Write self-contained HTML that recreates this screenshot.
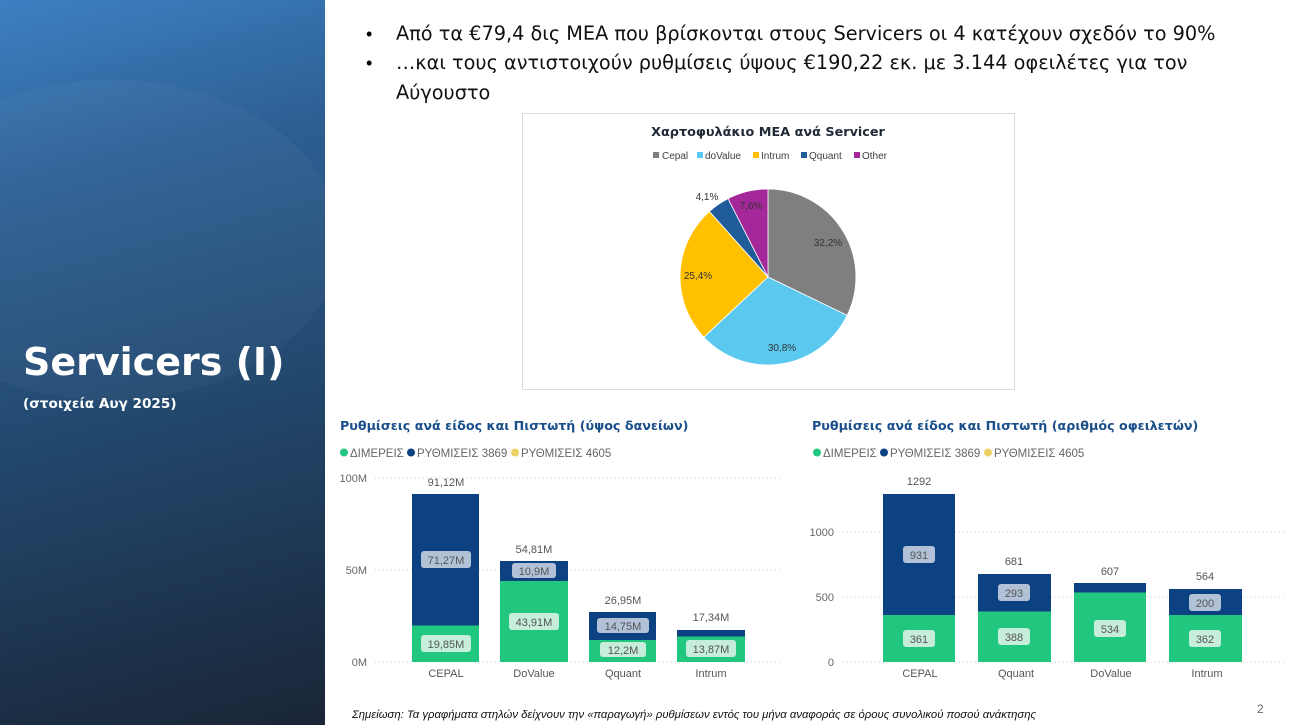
<!DOCTYPE html>
<html><head><meta charset="utf-8"><style>
html,body{margin:0;padding:0;width:1299px;height:725px;overflow:hidden;background:#fff;font-family:"Liberation Sans","DejaVu Sans",sans-serif}
.left{position:absolute;left:0;top:0;width:325px;height:725px;overflow:hidden;background:linear-gradient(165deg,#3d80c2 0%,#2d5f93 25%,#23496f 55%,#1d3550 80%,#1a2536 100%)}
.left .sh{position:absolute;left:-120px;top:80px;width:460px;height:320px;border-radius:50%;background:rgba(255,255,255,0.03)}
.t1{position:absolute;left:23px;top:340px;color:#fff;font-weight:bold;font-size:38px;font-family:"DejaVu Sans",sans-serif}
.t2{position:absolute;left:23px;top:396px;color:#fff;font-weight:bold;font-size:13.6px;font-family:"DejaVu Sans",sans-serif}
.b{position:absolute;left:396px;font-size:19.3px;color:#111;font-family:"DejaVu Sans",sans-serif}
.dot{position:absolute;left:366px;font-size:18px}
</style></head><body>
<div class="left"><div class="sh"></div><div class="t1">Servicers (I)</div><div class="t2">(στοιχεία Αυγ 2025)</div></div>
<div class="dot" style="top:24px">•</div><div class="b" style="top:22px">Από τα €79,4 δις ΜΕΑ που βρίσκονται στους Servicers οι 4 κατέχουν σχεδόν το 90%</div>
<div class="dot" style="top:53px">•</div><div class="b" style="top:51px">…και τους αντιστοιχούν ρυθμίσεις ύψους €190,22 εκ. με 3.144 οφειλέτες για τον</div>
<div class="b" style="top:81px">Αύγουστο</div>
<svg width="1299" height="725" style="position:absolute;left:0;top:0" font-family="Liberation Sans, DejaVu Sans, sans-serif">
<rect x="522.5" y="113.5" width="492" height="276" fill="#fff" stroke="#d6dbe0"/>
<text x="768" y="136" text-anchor="middle" font-size="12.8" font-weight="bold" fill="#1f2a36" font-family="DejaVu Sans, sans-serif">Χαρτοφυλάκιο ΜΕΑ ανά Servicer</text>
<g font-size="10" fill="#404040">
<rect x="653" y="152" width="6" height="6" fill="#7f7f7f"/><text x="662" y="159">Cepal</text>
<rect x="697" y="152" width="6" height="6" fill="#5bc8f0"/><text x="705" y="159">doValue</text>
<rect x="753" y="152" width="6" height="6" fill="#ffc000"/><text x="761" y="159">Intrum</text>
<rect x="801" y="152" width="6" height="6" fill="#1f5c99"/><text x="809" y="159">Qquant</text>
<rect x="854" y="152" width="6" height="6" fill="#a5289a"/><text x="862" y="159">Other</text>
</g>
<path d="M768,277 L768,189 A88,88 0 0 1 847.1,315.4 Z" fill="#7f7f7f" stroke="#fff" stroke-width="0.8"/>
<path d="M768,277 L847.1,315.4 A88,88 0 0 1 703.8,337.2 Z" fill="#5bc8f0" stroke="#fff" stroke-width="0.8"/>
<path d="M768,277 L703.8,337.2 A88,88 0 0 1 709.4,211.4 Z" fill="#ffc000" stroke="#fff" stroke-width="0.8"/>
<path d="M768,277 L709.4,211.4 A88,88 0 0 1 728,198.6 Z" fill="#1f5c99" stroke="#fff" stroke-width="0.8"/>
<path d="M768,277 L728,198.6 A88,88 0 0 1 768,189 Z" fill="#a5289a" stroke="#fff" stroke-width="0.8"/>
<g font-size="10" fill="#333" text-anchor="middle">
<text x="828" y="246">32,2%</text><text x="782" y="351">30,8%</text><text x="698" y="279">25,4%</text><text x="707" y="200">4,1%</text><text x="751" y="209">7,6%</text>
</g>
<text x="340" y="430" font-size="12.7" font-weight="bold" fill="#1a4f8b" font-family="DejaVu Sans, sans-serif">Ρυθμίσεις ανά είδος και Πιστωτή (ύψος δανείων)</text>
<g font-size="11.5" fill="#666">
<circle cx="344" cy="452.5" r="4" fill="#22c77f"/><text x="350" y="457">ΔΙΜΕΡΕΙΣ</text>
<circle cx="411" cy="452.5" r="4" fill="#0c4282"/><text x="417" y="457">ΡΥΘΜΙΣΕΙΣ 3869</text>
<circle cx="515" cy="452.5" r="4" fill="#ecd064"/><text x="521" y="457">ΡΥΘΜΙΣΕΙΣ 4605</text>
</g>
<g stroke="#ccc" stroke-dasharray="1,3"><line x1="375" y1="478" x2="782" y2="478"/><line x1="375" y1="570" x2="782" y2="570"/><line x1="375" y1="662" x2="782" y2="662"/></g>
<g font-size="11" fill="#666" text-anchor="end"><text x="367" y="482">100M</text><text x="367" y="574">50M</text><text x="367" y="666">0M</text></g>
<g fill="#0c4282"><rect x="412" y="494" width="67" height="168"/><rect x="500" y="561" width="68" height="101"/><rect x="589" y="612" width="67" height="50"/><rect x="677" y="630" width="68" height="32"/></g>
<g fill="#22c77f"><rect x="412" y="625.5" width="67" height="36.5"/><rect x="500" y="581" width="68" height="81"/><rect x="589" y="640" width="67" height="22"/><rect x="677" y="636.5" width="68" height="25.5"/></g>
<g fill="#cfd8e6" opacity="0.85"><rect x="421" y="551" width="50" height="17" rx="3"/><rect x="512" y="563" width="44" height="15" rx="3"/><rect x="597" y="618" width="52" height="15" rx="3"/></g>
<g fill="#d8f2e4" opacity="0.9"><rect x="421" y="635" width="50" height="17" rx="3"/><rect x="509" y="613" width="50" height="17" rx="3"/><rect x="600" y="642" width="46" height="15" rx="3"/><rect x="686" y="640" width="50" height="17" rx="3"/></g>
<g font-size="11" fill="#555" text-anchor="middle">
<text x="446" y="564">71,27M</text><text x="534" y="575">10,9M</text><text x="623" y="630">14,75M</text>
<text x="446" y="648">19,85M</text><text x="534" y="626">43,91M</text><text x="623" y="654">12,2M</text><text x="711" y="653">13,87M</text>
<text x="446" y="486">91,12M</text><text x="534" y="553">54,81M</text><text x="623" y="604">26,95M</text><text x="711" y="621">17,34M</text>
<text x="446" y="677">CEPAL</text><text x="534" y="677">DoValue</text><text x="623" y="677">Qquant</text><text x="711" y="677">Intrum</text>
</g>
<text x="812" y="430" font-size="12.7" font-weight="bold" fill="#1a4f8b" font-family="DejaVu Sans, sans-serif">Ρυθμίσεις ανά είδος και Πιστωτή (αριθμός οφειλετών)</text>
<g font-size="11.5" fill="#666">
<circle cx="817" cy="452.5" r="4" fill="#22c77f"/><text x="823" y="457">ΔΙΜΕΡΕΙΣ</text>
<circle cx="884" cy="452.5" r="4" fill="#0c4282"/><text x="890" y="457">ΡΥΘΜΙΣΕΙΣ 3869</text>
<circle cx="988" cy="452.5" r="4" fill="#ecd064"/><text x="994" y="457">ΡΥΘΜΙΣΕΙΣ 4605</text>
</g>
<g stroke="#ccc" stroke-dasharray="1,3"><line x1="843" y1="532" x2="1286" y2="532"/><line x1="843" y1="597" x2="1286" y2="597"/><line x1="843" y1="662" x2="1286" y2="662"/></g>
<g font-size="11" fill="#666" text-anchor="end"><text x="834" y="536">1000</text><text x="834" y="601">500</text><text x="834" y="666">0</text></g>
<g fill="#0c4282"><rect x="883" y="494" width="72" height="168"/><rect x="978" y="574" width="73" height="88"/><rect x="1074" y="583" width="72" height="79"/><rect x="1169" y="589" width="73" height="73"/></g>
<g fill="#22c77f"><rect x="883" y="615" width="72" height="47"/><rect x="978" y="611.5" width="73" height="50.5"/><rect x="1074" y="592.5" width="72" height="69.5"/><rect x="1169" y="615" width="73" height="47"/></g>
<g fill="#cfd8e6" opacity="0.85"><rect x="903" y="546" width="32" height="17" rx="3"/><rect x="998" y="584" width="32" height="17" rx="3"/><rect x="1189" y="594" width="32" height="17" rx="3"/></g>
<g fill="#d8f2e4" opacity="0.9"><rect x="903" y="630" width="32" height="17" rx="3"/><rect x="998" y="628" width="32" height="17" rx="3"/><rect x="1094" y="620" width="32" height="17" rx="3"/><rect x="1189" y="630" width="32" height="17" rx="3"/></g>
<g font-size="11" fill="#555" text-anchor="middle">
<text x="919" y="559">931</text><text x="1014" y="597">293</text><text x="1205" y="607">200</text>
<text x="919" y="643">361</text><text x="1014" y="641">388</text><text x="1110" y="633">534</text><text x="1205" y="643">362</text>
<text x="919" y="485">1292</text><text x="1014" y="565">681</text><text x="1110" y="575">607</text><text x="1205" y="580">564</text>
<text x="920" y="677">CEPAL</text><text x="1016" y="677">Qquant</text><text x="1111" y="677">DoValue</text><text x="1207" y="677">Intrum</text>
</g>
<text x="352" y="718" font-size="11.3" font-style="italic" fill="#111">Σημείωση: Τα γραφήματα στηλών δείχνουν την «παραγωγή» ρυθμίσεων εντός του μήνα αναφοράς σε όρους συνολικού ποσού ανάκτησης</text>
<text x="1257" y="713" font-size="12" fill="#666">2</text>
</svg>
</body></html>
